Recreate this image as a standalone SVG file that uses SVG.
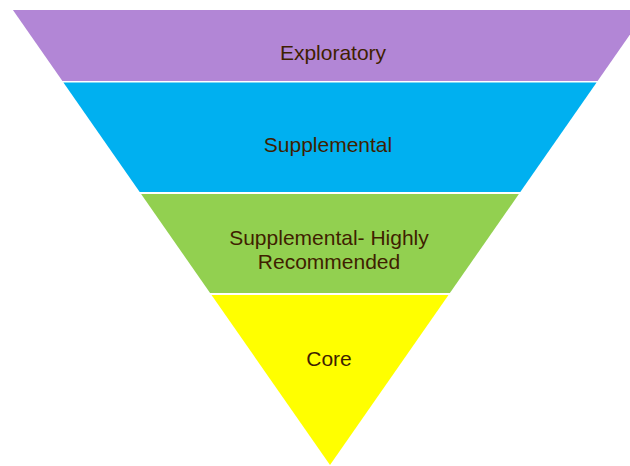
<svg xmlns="http://www.w3.org/2000/svg" width="630" height="466" viewBox="0 0 630 466">
<style>
.lbl{font-family:"Liberation Sans",Arial,sans-serif;font-size:21px;fill:#3F1F00;text-anchor:middle}
</style>
<rect width="630" height="466" fill="#fff"/>
<g id="exploratory">
<polygon points="12.9,10 647.1,10 597.6,81 62.4,81" fill="#B286D6"/>
<text class="lbl" x="333" y="60">Exploratory</text>
</g>
<g id="supplemental">
<polygon points="63.4,82.5 596.6,82.5 520.3,192 139.7,192" fill="#00B0F0"/>
<text class="lbl" x="328" y="152">Supplemental</text>
</g>
<g id="supplemental-highly">
<polygon points="141.1,194 518.9,194 449.9,293 210.1,293" fill="#92D050"/>
<text class="lbl" x="329" y="245">Supplemental- Highly</text>
<text class="lbl" x="329" y="269">Recommended</text>
</g>
<g id="core">
<polygon points="211.5,295 448.5,295 330,465" fill="#FFFF00"/>
<text class="lbl" x="329" y="366">Core</text>
</g>
<g id="connectors"></g>
</svg>
